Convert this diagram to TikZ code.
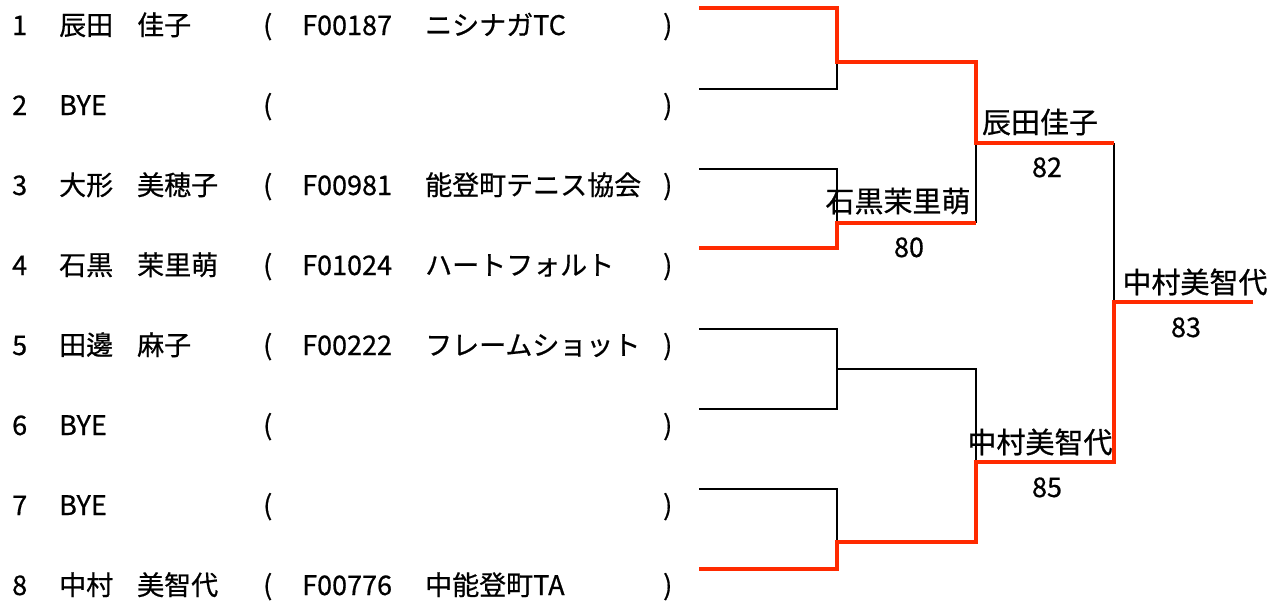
\documentclass[tikz,border=0pt]{standalone}
\usepackage{fontspec}
\setmainfont{Noto Sans CJK JP}[FakeBold=0.6]
\definecolor{winred}{RGB}{255,42,0}
\tikzset{
  x=1pt, y=-1pt,
  txt/.style={anchor=base west, inner sep=0pt, font=\fontsize{27}{30}\selectfont},
  lbl/.style={anchor=base, inner sep=0pt, font=\fontsize{29}{32}\selectfont},
  score/.style={anchor=base, inner sep=0pt, font=\fontsize{27}{30}\selectfont},
  loseline/.style={draw=black, line width=1.3pt},
  winline/.style={draw=winred, line width=4.4pt, line join=miter},
}
\begin{document}
\begin{tikzpicture}
\useasboundingbox (0,0) rectangle (1274,603);
% entries
\foreach \i/\num/\na/\nb/\code/\team in {
  1/1/辰田/佳子/F00187/ニシナガTC,
  2/2/BYE///,
  3/3/大形/美穂子/F00981/能登町テニス協会,
  4/4/石黒/茉里萌/F01024/ハートフォルト,
  5/5/田邊/麻子/F00222/フレームショット,
  6/6/BYE///,
  7/7/BYE///,
  8/8/中村/美智代/F00776/中能登町TA}{
  \pgfmathsetmacro{\yb}{35+80*(\i-1)}
  \node[txt] (num\i) at (12,\yb) {\num};
  \node[txt] (na\i) at (59,\yb) {\na};
  \node[txt] (nb\i) at (137,\yb) {\nb};
  \node[txt] (lp\i) at (263,\yb) {(};
  \node[txt] (code\i) at (302,\yb) {\code};
  \node[txt] (team\i) at (425,\yb) {\team};
  \node[txt] (rp\i) at (663,\yb) {)};
}
% bracket coordinates
\coordinate (r1) at (699,8);
\coordinate (r2) at (699,89);
\coordinate (r3) at (699,169);
\coordinate (r4) at (699,248);
\coordinate (r5) at (699,329);
\coordinate (r6) at (699,409);
\coordinate (r7) at (699,489);
\coordinate (r8) at (699,569);
\coordinate (a1) at (837,62);
\coordinate (a2) at (837,223);
\coordinate (a3) at (837,369);
\coordinate (a4) at (837,542);
\coordinate (b1) at (976,143);
\coordinate (b2) at (976,462);
\coordinate (c1) at (1114,302);
\coordinate (fin) at (1253,302);
% losing lines
\draw[loseline] (r2) -- (r2 -| a1) -- (a1);
\draw[loseline] (r3) -- (r3 -| a2) -- (a2);
\draw[loseline] (r5) -- (r5 -| a3) -- (r6 -| a3) -- (r6);
\draw[loseline] (a3) -- (a3 -| b2) -- (b2);
\draw[loseline] (r7) -- (r7 -| a4) -- (a4);
\draw[loseline] (a2 -| b1) -- (b1);
\draw[loseline] (b1 -| c1) -- (c1);
% winning lines
\draw[winline] (r1) -- (r1 -| a1) -- (a1) -- (a1 -| b1) -- (b1) -- (b1 -| c1);
\draw[winline] (r4) -- (r4 -| a2) -- (a2) -- (a2 -| b1);
\draw[winline] (r8) -- (r8 -| a4) -- (a4) -- (a4 -| b2) -- (b2) -- (b2 -| c1) -- (c1) -- (fin);
% winner labels and scores
\node[lbl] (w1) at (1040,133) {辰田佳子};
\node[score] (s1) at (1047,177) {82};
\node[lbl] (w2) at (898,212) {石黒茉里萌};
\node[score] (s2) at (909,257) {80};
\node[lbl] (w3) at (1040,453) {中村美智代};
\node[score] (s3) at (1047,497) {85};
\node[lbl] (w4) at (1195,293) {中村美智代};
\node[score] (s4) at (1186,337) {83};
\end{tikzpicture}
\end{document}
